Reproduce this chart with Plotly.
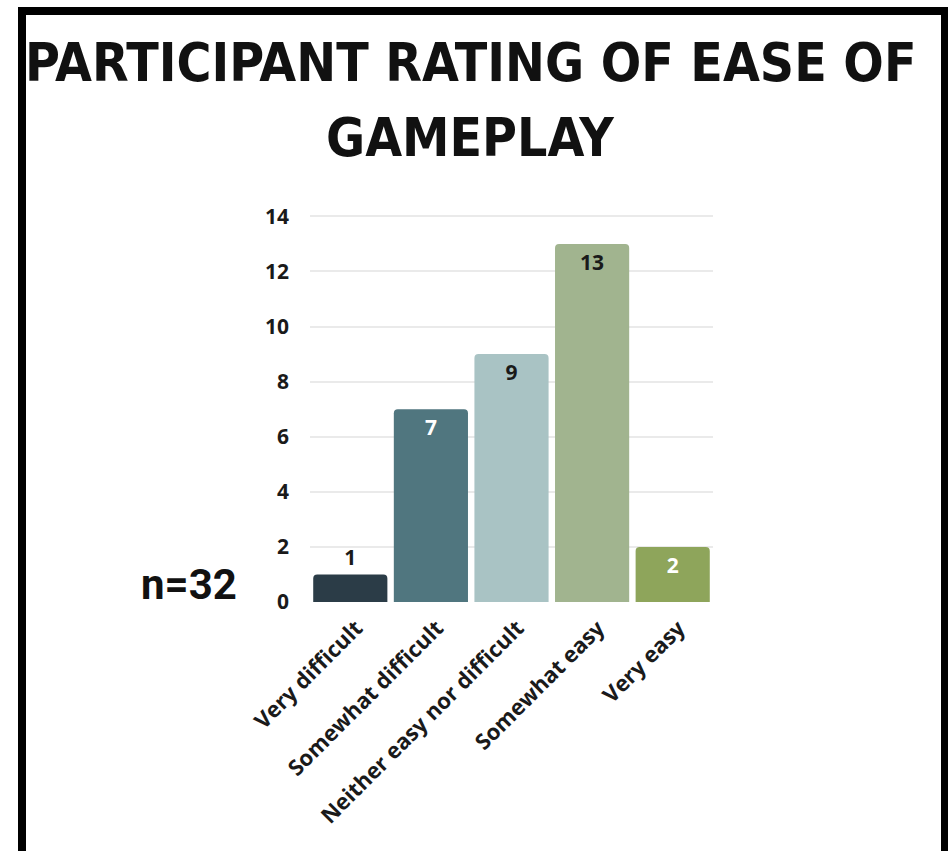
import plotly.graph_objects as go

# Survey responses
categories = ["Very difficult", "Somewhat difficult", "Neither easy nor difficult",
              "Somewhat easy", "Very easy"]
counts = [1, 7, 9, 13, 2]
bar_colors = ["#2b3c47", "#50767f", "#a9c3c4", "#a1b48f", "#8ea55b"]
label_colors = ["#1a1a1a", "#ffffff", "#1a1a1a", "#1a1a1a", "#ffffff"]
label_positions = ["outside", "inside", "inside", "inside", "inside"]
y_ticks = [0, 2, 4, 6, 8, 10, 12, 14]
title_lines = ["PARTICIPANT RATING OF EASE OF", "GAMEPLAY"]
sample_note = "n=32"

W, H = 948, 851
PL, PR, PT, PB = 310, 713, 215, 602  # plot area in pixels


def px_x(x):
    return (x - PL) / (PR - PL)


def px_y(y):
    return (PB - y) / (PB - PT)


fig = go.Figure(go.Bar(
    x=categories,
    y=counts,
    marker=dict(color=bar_colors, cornerradius=4, line=dict(width=0)),
    text=[str(c) for c in counts],
    textposition=label_positions,
    insidetextanchor="end",
    textfont=dict(family="Open Sans", size=21, color=label_colors, weight="bold"),
    outsidetextfont=dict(family="Open Sans", size=21, color="#1a1a1a", weight="bold"),
    insidetextfont=dict(family="Open Sans", size=21, color=label_colors, weight="bold"),
    cliponaxis=False,
    width=0.92,
))

title_annotations = [
    dict(text=line, xref="paper", yref="paper",
         x=px_x(W / 2 - 4), y=px_y(cy), xanchor="center", yanchor="middle",
         showarrow=False,
         font=dict(family="DejaVu Sans Condensed", size=53, color="#111111", weight="bold"))
    for line, cy in zip(title_lines, [62, 137])
]

fig.update_layout(
    width=W, height=H,
    margin=dict(l=PL, r=W - PR, t=PT, b=H - PB),
    paper_bgcolor="white",
    plot_bgcolor="white",
    showlegend=False,
    xaxis=dict(
        tickangle=-45,
        tickfont=dict(family="Open Sans", size=22, color="#1a1a1a", weight="bold"),
        showgrid=False, showline=False, zeroline=False, ticks="",
        ticklabelstandoff=8, ticklabelshift=6,
    ),
    yaxis=dict(
        range=[0, 14.05],
        tickvals=y_ticks,
        tickfont=dict(family="Open Sans", size=21, color="#1a1a1a", weight="bold"),
        showgrid=True, gridcolor="#eaeaea", gridwidth=2,
        zeroline=False, showline=False, ticks="",
        ticklabelstandoff=20,
    ),
    annotations=title_annotations + [dict(
        text=sample_note, xref="paper", yref="paper",
        x=px_x(189), y=px_y(584), xanchor="center", yanchor="middle",
        showarrow=False,
        font=dict(family="Roboto", size=42, color="#111111", weight="bold"),
    )],
    shapes=[dict(
        type="rect", xref="paper", yref="paper",
        x0=px_x(22), x1=px_x(945), y0=px_y(855), y1=px_y(11),
        line=dict(color="black", width=8), fillcolor="rgba(0,0,0,0)",
        layer="above",
    )],
)

fig.write_html("out.html")
